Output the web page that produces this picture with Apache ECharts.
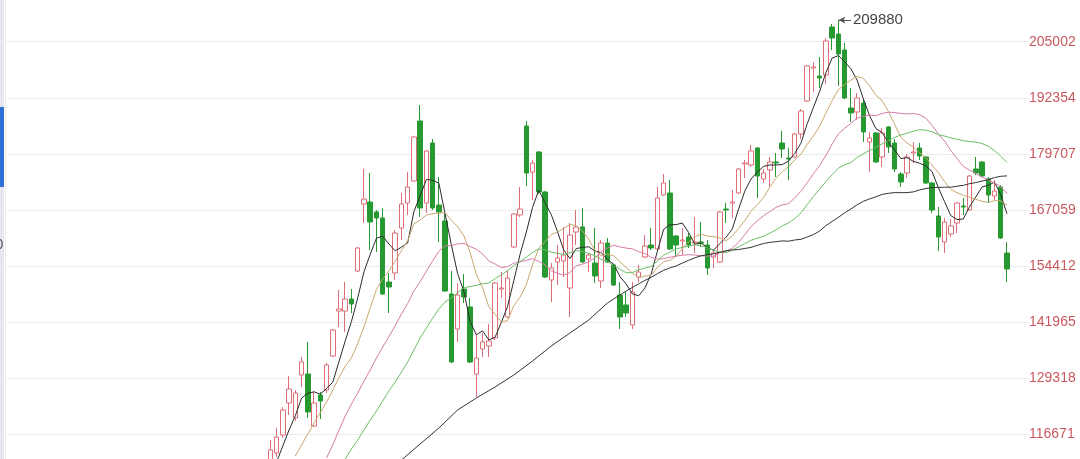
<!DOCTYPE html>
<html>
<head>
<meta charset="utf-8">
<script src="https://cdn.jsdelivr.net/npm/echarts@6/dist/echarts.min.js"></script>
<style>html,body{margin:0;padding:0;background:#fff;}#c{width:1080px;height:459px;}</style>
</head>
<body>
<div id="c"></div>
<script>
// Y-axis tick labels, bottom to top
const tickLabels = ['116671', '129318', '141965', '154412', '167059', '179707', '192354', '205002'];

// Daily candles: [open, close, low, high]
const ohlc = [
[110675,112930,110224,115185],[112253,115861,111351,117891],[116312,121950,115636,122626],[123528,126685,120822,129617],[120146,125783,119469,126460],
[129842,132774,127136,133901],[130068,121499,120146,137284],[118342,123528,118116,126009],[125332,123979,119920,126009],[126460,132097,125783,132548],
[134127,139990,133901,140215],[144274,144725,140666,149010],[144274,146980,139539,150814],[146980,145853,143823,149235],[153294,158481,153069,158707],
[168403,169530,164118,176295],[168854,164344,158030,175393],[166599,165246,157579,167050],[165246,148108,147882,167501],[150814,149686,143823,152843],
[152843,161863,151265,162540],[162991,168403,160285,170883],[168628,172236,165922,175619],[173589,183511,173364,183737],[187119,167501,165471,190727],
[168628,180354,166373,180580],[182158,167501,167050,183060],[168177,166599,159834,174491],[164569,148784,148559,166599],[148108,132774,132548,153294],
[140215,147882,137284,150588],[149235,147431,146078,152618],[145176,132774,132548,147206],[130068,133676,124881,139088],[135705,137284,133901,139313],
[136382,137509,133901,141343],[138186,150588,137735,150814],[149235,149461,147206,153069],[142921,151716,142696,153520],[158707,166148,158481,166373],
[165922,167275,165471,172236],[185992,175393,172462,187119],[175619,177648,169305,178325],[180129,171109,170658,180354],[171109,151941,151716,171334],
[151265,153971,146304,155098],[155324,156226,150137,159157],[155549,156902,151941,163216],[149461,161412,142921,164118],[162089,163216,159157,167050],
[163216,155324,155098,167501],[156000,156902,153069,157353],[155098,152167,150588,162991],[151039,159608,149461,160285],[159608,155324,155098,160736],
[154647,150137,149912,154873],[147882,142921,140215,150814],[145627,143823,142921,148559],[141117,148559,140215,150814],[151941,153069,150814,154647],
[156451,158932,156226,161412],[159157,158481,158030,162991],[158256,169756,158030,172236],[170432,173138,170207,175168],[170883,158256,158030,173815],
[161187,159157,156451,161412],[160059,160285,156902,162991],[160962,159157,158481,161863],[159608,159834,157353,165471],[159834,159608,158707,164344],
[159157,153971,152392,160285],[156451,157353,153971,158030],[155324,166599,155098,166824],[167275,167050,164118,168628],[168628,168854,165246,171560],
[170883,176295,170658,176521],[177423,177648,174266,178325],[177198,180354,176747,181708],[181031,174717,169756,181257],[174040,175393,173138,176296],
[176070,177874,172462,179002],[177874,177648,174491,179905],[182158,180806,178776,184865],[178776,178551,173815,181031],[179002,184188,178776,184413],
[184188,189375,183060,189826],[191630,199522,191404,199748],[199071,199296,193659,200424],[197267,196816,194561,201552],[197492,205159,195463,205836],
[208317,205836,203130,208993],[206738,202228,195012,209880],[203130,192306,192081,204708],[190051,188924,186894,194561],[189149,192306,187345,193433],
[191178,184639,182384,191855],[182384,183286,175619,184639],[184413,177874,177648,184639],[179002,184413,176746,185541],[185767,181257,179903,185992],
[182158,176296,175619,183061],[175168,173364,172236,175619],[175393,179002,174266,179678],[179903,180129,177648,182384],[181031,179228,178325,182158],
[179002,173138,172913,179227],[173138,167050,166373,173364],[165696,160961,157804,167726],[159834,164344,157353,165246],[161638,163442,160961,165020],
[164118,168628,161863,168854],[167952,167726,165922,169756],[167050,174717,166824,174942],[176296,175393,174942,179002],[177874,174717,174491,178100],
[174040,170432,168628,174491],[170207,171334,169305,173815],[172236,160736,160510,172687],[157353,153745,150814,159834]
];

// Moving averages (first value belongs to candle number *Start)
const ma5Start = 2;
const ma5 = [110224,113832,117440,
120642,124611,125738,126054,125513,126776,128219,132864,137555,141929,
147206,153114,157038,160691,161142,159383,157850,158661,159608,166689,
170252,173950,173770,173093,166148,159203,152708,148694,141929,138908,
139810,137735,138366,141704,145312,151085,157038,161999,167636,171515,
168674,166013,162179,158030,156091,158346,158616,158752,157804,157444,
155865,154828,152032,150363,148153,147702,149461,152573,157759,162675,
163713,163758,164118,161999,159338,159608,158571,157985,159473,160916,
162765,167230,171289,174040,175574,176882,177197,177197,177288,178054,
179813,182113,186488,190186,193839,198034,201326,201867,200469,198891,
196320,192080,188292,185406,184504,182294,180625,178641,178866,178009,
177603,176972,175709,172101,168944,165787,164885,165020,167772,169981,
172236,172597,173319,170523,166193];

const ma10Start = 5;
const ma10 = [111577,114057,116538,119018,121362,123709,126415,129301,131804,133721,
136991,140666,144951,149123,151536,153294,155482,157850,160150,163916,
164818,165900,166216,166351,166419,164727,163329,161232,157511,152528,
149506,145222,143530,141817,142110,145447,147386,150183,154670,158413,
159879,161525,162089,162833,163803,163510,162314,160465,157917,156767,
157105,156722,155392,154084,152798,151784,152144,152302,154061,155414,
155707,156609,158346,159879,161007,161661,161164,161052,160736,160127,
161187,162901,164637,166757,168245,169824,172214,174243,175664,176814,
178348,179655,181843,183737,185947,188923,191720,194178,195328,196365,
197177,196703,195080,192937,191697,189307,186353,183466,182136,181256,
179949,178799,177175,175484,173477,171695,170929,170365,169936,169463,
169012,168741,169170,169147,168087];

const ma20Start = 10;
const ma20 = [111126,114057,117440,120597,123303,125783,128489,130970,133676,136156,
138502,140937,143575,145966,148807,150904,153272,155572,157737,158977,
159000,159406,159541,158819,158210,157151,155549,154873,154084,154264,
155076,155347,155707,156091,155459,154693,153362,152798,152325,152956,
154467,154850,155324,156294,157579,158481,159112,158729,158458,158301,
157647,157218,156384,155978,156091,156406,156654,156857,156970,156902,
156722,156654,156677,157399,157759,158436,159744,161480,163307,164615,
165742,166689,167636,168200,168471,169756,171267,173229,175236,177085,
179362,181956,184211,185496,186578,187751,188179,188450,188337,188811,
189104,189036,188811,188721,188811,188563,187751,186127,184211,182587,
180490,178641,176904,176025,175348,174469,173770,173161,172304,170771];

const ma30Start = 13;
const ma30 = [110900,113155,115185,117440,119695,121724,123979,126234,128264,130519,
132774,135480,138186,140441,142696,144725,146304,147251,148401,149461,
149822,150047,150431,150588,151558,152438,153362,154490,155392,156429,
157444,158278,158075,157556,157286,156993,157444,157895,157669,157286,
156700,155910,155504,154490,153678,152911,152911,153588,153948,154309,
155549,156857,157556,158278,158616,158932,159203,158977,158549,157940,
157579,157444,158007,158752,159451,160240,160691,161097,161841,162540,
163487,164118,165088,166396,168268,170117,171740,173477,175033,176498,
177243,177761,178911,179746,180512,181144,181956,182677,183421,183962,
184368,184819,185158,185045,184707,184053,183714,183309,182993,182677,
182474,182361,182046,181414,180467,179182,177761];

// MA60: sparse readings [candle number, value] where only the line is visible, then daily values
const ma60Early = [[22,110675],[25,114283],[28,117891],[31,121950],[34,124656],[37,127136],[40,129842],
[43,132999],[46,136382],[49,139313],[52,142245],[55,146078],[58,148784]];
const ma60Start = 60;
const ma60 = [150408,151175,151874,152686,153452,153994,154422,155076,155685,156271,
156722,156970,157173,157511,157850,158030,158143,158368,158616,159067,
159496,159744,159902,160082,160014,160285,160443,160961,161503,162314,
163532,164479,165404,166396,167298,168223,169012,169553,170027,170568,
170816,170974,170951,170974,171132,171583,171898,172079,172146,172191,
172191,172417,172597,172981,173229,173567,173905,174356,174649,174740];

const highLabel = 209880;
const highCandle = 92;

const categories = ohlc.map((_, i) => String(i + 1));
function pad(start, arr) {
  const out = [];
  for (let i = 1; i < start; i++) out.push('-');
  return out.concat(arr);
}
const ma60Data = ma60Early.map(p => [p[0] - 1, p[1]]).concat(ma60.map((v, i) => [ma60Start - 1 + i, v]));

const Y_INT = 12647.4;
const Y_MIN = 116470.2 - Y_INT;
const Y_MAX = Y_MIN + 9 * Y_INT;
const GRID_TOP = -14.4, GRID_BOTTOM = -31.4;

const chart = echarts.init(document.getElementById('c'), null, {renderer: 'canvas'});
const lineBase = {type: 'line', xAxisIndex: 1, yAxisIndex: 1, symbol: 'none', smooth: false,
  lineStyle: {width: 1}, silent: true, z: 3};
chart.setOption({
  animation: false,
  textStyle: {fontFamily: '"Liberation Sans", Arial, sans-serif'},
  grid: [
    {left: 5, right: 52, top: GRID_TOP, bottom: GRID_BOTTOM, outerBoundsMode: 'none', containLabel: false},
    {left: 267.2, right: 69.9, top: GRID_TOP, bottom: GRID_BOTTOM, outerBoundsMode: 'none', containLabel: false}
  ],
  xAxis: [
    {type: 'value', gridIndex: 0, min: 0, max: 1, show: false},
    {type: 'category', gridIndex: 1, data: categories, boundaryGap: true, show: false}
  ],
  yAxis: [
    {type: 'value', gridIndex: 0, position: 'right', min: Y_MIN, max: Y_MAX, interval: Y_INT,
     axisLine: {show: true, lineStyle: {color: '#ececec', width: 1}},
     axisTick: {show: false},
     splitLine: {show: true, lineStyle: {color: '#ebebeb', width: 1}},
     axisLabel: {color: '#c9585d', fontSize: 14, margin: 1,
       formatter: function (v) {
         const k = Math.round((v - Y_MIN) / Y_INT) - 1;
         return (k >= 0 && k < tickLabels.length) ? tickLabels[k] : '';
       }}},
    {type: 'value', gridIndex: 1, min: Y_MIN, max: Y_MAX, interval: Y_INT, show: false, splitLine: {show: false}}
  ],
  graphic: [
    {type: 'rect', left: 0, top: 0, shape: {x: 0, y: 0, width: 4, height: 459}, style: {fill: '#e6e6f0'}, silent: true},
    {type: 'rect', shape: {x: 0, y: 107, width: 4, height: 80}, style: {fill: '#2f6fd6'}, silent: true},
    {type: 'text', x: -4.5, y: 245, style: {text: '0', fill: '#555', font: '14px "Liberation Sans", Arial', verticalAlign: 'middle'}, silent: true}
  ],
  series: [
    {type: 'candlestick', xAxisIndex: 1, yAxisIndex: 1, data: ohlc, barWidth: 5, z: 2,
     itemStyle: {color: '#ffffff', color0: '#269a31', borderColor: '#de6f78', borderColor0: '#269a31', borderWidth: 1},
     markLine: {
       silent: true, animation: false,
       symbol: ['arrow', 'none'], symbolSize: [5, 7],
       lineStyle: {color: '#555', width: 1, type: 'solid'},
       label: {show: true, position: 'end', formatter: String(highLabel), color: '#444', fontSize: 15, distance: 2,
               fontFamily: '"Liberation Sans", Arial, sans-serif'},
       data: [[{coord: [highCandle - 1, highLabel]}, {coord: [highCandle + 1, highLabel]}]]
     }},
    Object.assign({}, lineBase, {name: 'MA5', data: pad(ma5Start, ma5), lineStyle: {width: 1, color: '#2a2a2a'}}),
    Object.assign({}, lineBase, {name: 'MA10', data: pad(ma10Start, ma10), lineStyle: {width: 1, color: '#c9a66e'}}),
    Object.assign({}, lineBase, {name: 'MA20', data: pad(ma20Start, ma20), lineStyle: {width: 1, color: '#d67aa9'}}),
    Object.assign({}, lineBase, {name: 'MA30', data: pad(ma30Start, ma30), lineStyle: {width: 1, color: '#6cbd66'}}),
    Object.assign({}, lineBase, {name: 'MA60', data: ma60Data, lineStyle: {width: 1, color: '#333333'}})
  ]
});
</script>
</body>
</html>
